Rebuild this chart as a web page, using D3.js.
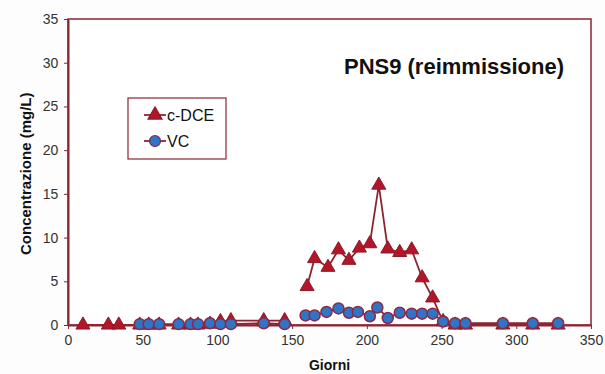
<!DOCTYPE html>
<html>
<head>
<meta charset="utf-8">
<script src="https://cdn.jsdelivr.net/npm/d3@7"></script>
<style>
  body { margin: 0; background: #fdfdfd; }
  text { font-family: "Liberation Sans", Arial, sans-serif; }
</style>
</head>
<body>
<script>
// c-DCE series (days, mg/L); null = gap in the line
const dceDays = [10, 27, 34, 48, 54, 61, 74, 82, 87, 95, 102, 109, 131, 145, 160, 165, 174, 181, 188, 195, 202, 208, 214, 222, 230, 237, 244, 251, 259, 266, 291, 311, 328];
const dceVals = [0, 0, 0, 0, 0, 0, 0, 0, 0, 0.1, 0.4, 0.5, 0.5, 0.5, 4.4, 7.6, 6.6, 8.6, 7.4, 8.8, 9.3, 16.0, 8.7, 8.3, 8.6, 5.4, 3.1, 0.4, 0, 0, 0, 0, 0];
const dceGapAfter = [145];

// VC series
const vcDays = [48, 54, 61, 74, 82, 87, 95, 102, 109, 131, 145, 159, 165, 173, 181, 188, 194, 202, 207, 214, 222, 230, 237, 244, 251, 259, 266, 291, 311, 328];
const vcVals = [0.1, 0.1, 0.1, 0.1, 0.1, 0.1, 0.2, 0.1, 0.1, 0.2, 0.1, 1.1, 1.1, 1.5, 1.9, 1.4, 1.5, 1.0, 2.0, 0.8, 1.4, 1.3, 1.3, 1.3, 0.4, 0.2, 0.2, 0.2, 0.2, 0.2];
const vcGapAfter = [145];

const xTicks = [0, 50, 100, 150, 200, 250, 300, 350];
const yTicks = [0, 5, 10, 15, 20, 25, 30, 35];

const width = 605, height = 374;
const margin = { left: 68, right: 14, top: 19, bottom: 49 };
const maroon = '#8c2531';

const svg = d3.select('body').append('svg')
  .attr('width', width)
  .attr('height', height);

const x = d3.scaleLinear().domain([0, 350]).range([margin.left, width - margin.right]);
const y = d3.scaleLinear().domain([0, 35]).range([height - margin.bottom, margin.top]);

// plot frame
svg.append('rect')
  .attr('x', x(0)).attr('y', y(35))
  .attr('width', x(350) - x(0)).attr('height', y(0) - y(35))
  .attr('fill', '#fff')
  .attr('stroke', maroon).attr('stroke-width', 1.5);

const xAxis = svg.append('g')
  .attr('transform', `translate(0,${y(0)})`)
  .call(d3.axisBottom(x).tickValues(xTicks).tickSize(4).tickSizeOuter(0));
const yAxis = svg.append('g')
  .attr('transform', `translate(${x(0)},0)`)
  .call(d3.axisLeft(y).tickValues(yTicks).tickSize(4).tickSizeOuter(0));

[xAxis, yAxis].forEach(a => {
  a.select('.domain').attr('stroke', maroon).attr('stroke-width', 2);
  a.selectAll('.tick line').attr('stroke', maroon);
  a.selectAll('.tick text').attr('fill', '#333').attr('font-size', 14)
    .attr('font-family', '"Liberation Sans", Arial, sans-serif');
});
xAxis.selectAll('.tick text').attr('dy', '0.95em');
yAxis.selectAll('.tick text').attr('dx', '-0.2em');

function toPoints(days, vals, gaps) {
  const pts = [];
  days.forEach((d, i) => {
    pts.push({ d: d, v: vals[i] });
    if (gaps.includes(d)) pts.push(null);
  });
  return pts;
}

const line = d3.line()
  .defined(p => p !== null)
  .x(p => x(p.d)).y(p => y(p.v));

const dcePts = toPoints(dceDays, dceVals, dceGapAfter);
const vcPts = toPoints(vcDays, vcVals, vcGapAfter);

const tri = d3.symbol().type(d3.symbolTriangle).size(85);
const circ = d3.symbol().type(d3.symbolCircle).size(95);

svg.append('path').datum(dcePts)
  .attr('d', line).attr('fill', 'none')
  .attr('stroke', maroon).attr('stroke-width', 1.8);
svg.append('g').selectAll('path')
  .data(dcePts.filter(p => p))
  .join('path')
  .attr('d', tri)
  .attr('transform', p => `translate(${x(p.d)},${y(p.v)})`)
  .attr('fill', '#b3162b').attr('stroke', '#8a1a24').attr('stroke-width', 1);

svg.append('path').datum(vcPts)
  .attr('d', line).attr('fill', 'none')
  .attr('stroke', maroon).attr('stroke-width', 1.8);
svg.append('g').selectAll('path')
  .data(vcPts.filter(p => p))
  .join('path')
  .attr('d', circ)
  .attr('transform', p => `translate(${x(p.d)},${y(p.v)})`)
  .attr('fill', '#2f74c6').attr('stroke', '#8c2a45').attr('stroke-width', 1.5);

// title
svg.append('text')
  .attr('x', 454).attr('y', 74)
  .attr('text-anchor', 'middle')
  .attr('font-size', 22).attr('font-weight', 'bold').attr('fill', '#111')
  .text('PNS9 (reimmissione)');

// axis titles
svg.append('text')
  .attr('x', x(175)).attr('y', 370)
  .attr('text-anchor', 'middle')
  .attr('font-size', 14).attr('font-weight', 'bold').attr('fill', '#111')
  .text('Giorni');
svg.append('text')
  .attr('transform', `translate(31,${y(17.3)}) rotate(-90)`)
  .attr('text-anchor', 'middle')
  .attr('font-size', 15).attr('font-weight', 'bold').attr('fill', '#111')
  .text('Concentrazione (mg/L)');

// legend
const leg = svg.append('g').attr('transform', 'translate(128,98)');
leg.append('rect')
  .attr('width', 98).attr('height', 61)
  .attr('fill', '#fff').attr('stroke', maroon).attr('stroke-width', 1.2);
const entries = [
  { name: 'c-DCE', sym: tri, fill: '#b3162b', stroke: '#8a1a24' },
  { name: 'VC', sym: circ, fill: '#2f74c6', stroke: '#8c2a45' }
];
entries.forEach((e, i) => {
  const cy = 17 + i * 26;
  leg.append('line').attr('x1', 16).attr('x2', 38).attr('y1', cy).attr('y2', cy)
    .attr('stroke', maroon).attr('stroke-width', 1.8);
  leg.append('path').attr('d', e.sym)
    .attr('transform', `translate(27,${cy})`)
    .attr('fill', e.fill).attr('stroke', e.stroke).attr('stroke-width', 1.2);
  leg.append('text').attr('x', 39).attr('y', cy + 5.5)
    .attr('font-size', 16).attr('fill', '#111')
    .text(e.name);
});
</script>
</body>
</html>
